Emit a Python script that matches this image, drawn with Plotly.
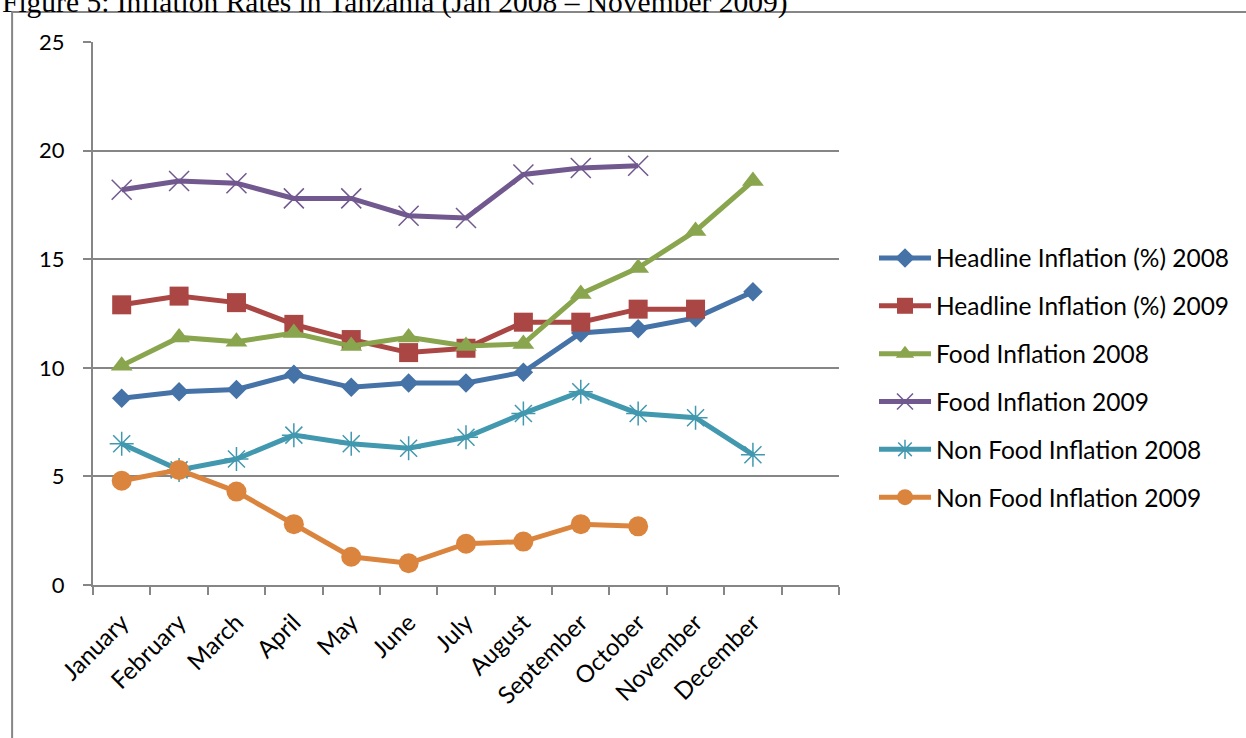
import plotly.graph_objects as go

months = ["January", "February", "March", "April", "May", "June", "July",
          "August", "September", "October", "November", "December"]
categories = months + [" "]

headline_2008 = [8.6, 8.9, 9.0, 9.7, 9.1, 9.3, 9.3, 9.8, 11.6, 11.8, 12.3, 13.5]
headline_2009 = [12.9, 13.3, 13.0, 12.0, 11.3, 10.7, 10.9, 12.1, 12.1, 12.7, 12.7]
food_2008 = [10.1, 11.4, 11.2, 11.6, 11.0, 11.4, 11.0, 11.1, 13.4, 14.6, 16.3, 18.6]
food_2009 = [18.2, 18.6, 18.5, 17.8, 17.8, 17.0, 16.9, 18.9, 19.2, 19.3]
nonfood_2008 = [6.5, 5.3, 5.8, 6.9, 6.5, 6.3, 6.8, 7.9, 8.9, 7.9, 7.7, 6.0]
nonfood_2009 = [4.8, 5.3, 4.3, 2.8, 1.3, 1.0, 1.9, 2.0, 2.8, 2.7]

series = [
    ("Headline Inflation (%) 2008", headline_2008, "#4572A7", dict(symbol="diamond", size=15)),
    ("Headline Inflation (%) 2009", headline_2009, "#AA4643", dict(symbol="square", size=19)),
    ("Food Inflation 2008", food_2008, "#89A54E", dict(symbol="triangle-up", size=19)),
    ("Food Inflation 2009", food_2009, "#71588F", dict(symbol="x-thin-open", size=20, line=dict(width=1.5))),
    ("Non Food Inflation 2008", nonfood_2008, "#4198AF", dict(symbol="asterisk-open", size=20, line=dict(width=1.5))),
    ("Non Food Inflation 2009", nonfood_2009, "#DB843D", dict(symbol="circle", size=20)),
]

fig = go.Figure()
for i, (name, vals, color, mk) in enumerate(series):
    marker = dict(color=color, **mk)
    if "line" in mk:
        marker["line"] = dict(color=color, width=mk["line"]["width"])
    fig.add_trace(go.Scatter(
        x=months[:len(vals)], y=vals, name=name, mode="lines+markers",
        line=dict(color=color, width=5), marker=marker,
        legendgroup=f"g{i}",
    ))

W, H = 1246, 738
L, R, T, B = 93, 406, 42, 153
pw, ph = W - L - R, H - T - B

def px_x(px):
    return (px - L) / pw

def px_y(py):
    return (H - B - py) / ph

fig.update_layout(
    width=W, height=H,
    margin=dict(l=L, r=R, t=T, b=B),
    paper_bgcolor="white", plot_bgcolor="white",
    font=dict(family="Lato", size=22, color="black"),
    showlegend=True,
    legend=dict(x=px_x(874), y=px_y(378), xanchor="left", yanchor="middle",
                font=dict(family="Lato", size=24.5, color="black"),
                tracegroupgap=13, itemwidth=52, bgcolor="rgba(0,0,0,0)"),
    xaxis=dict(type="category", categoryorder="array", categoryarray=categories,
               range=[-0.5, 12.5], tickson="boundaries", ticks="outside",
               ticklen=8, tickcolor="#868686", tickwidth=2,
               showgrid=False, showline=True, linecolor="#868686", linewidth=2,
               tickangle=-45, ticklabelstandoff=12,
               tickfont=dict(family="Lato", size=24, color="black"),
               fixedrange=True),
    yaxis=dict(range=[0, 25], dtick=5, ticks="outside", ticklen=8,
               tickcolor="#868686", tickwidth=2,
               showgrid=True, gridcolor="#868686", gridwidth=1.5,
               showline=True, linecolor="#868686", linewidth=2,
               zeroline=False, ticklabelstandoff=14,
               tickfont=dict(family="Lato", size=22, color="black"),
               fixedrange=True),
    shapes=[dict(type="rect", xref="paper", yref="paper",
                 x0=px_x(12), x1=px_x(1400), y0=px_y(900), y1=px_y(12),
                 line=dict(color="#868686", width=2), fillcolor="rgba(0,0,0,0)",
                 layer="below")],
    annotations=[dict(text="Figure 5: Inflation Rates in Tanzania (Jan 2008 \u2013 November 2009)",
                      xref="paper", yref="paper", x=px_x(0), y=px_y(2.5),
                      xanchor="left", yanchor="middle", showarrow=False,
                      font=dict(family="Liberation Serif", size=29.5, color="black"))],
)

fig.write_html("out.html")
